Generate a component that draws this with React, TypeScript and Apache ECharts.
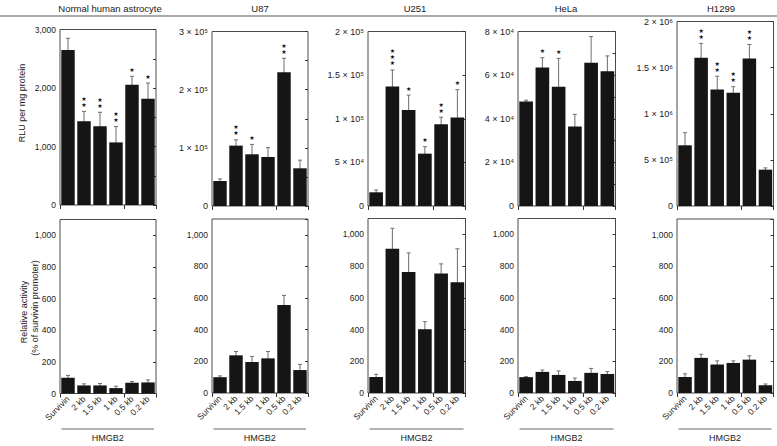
import React, { useEffect, useRef } from "react";
import * as echarts from "echarts";

const categories = ["Survivin", "2 kb", "1.5 kb", "1 kb", "0.5 kb", "0.2 kb"];
const panelTitles = ["Normal human astrocyte", "U87", "U251", "HeLa", "H1299"];

// Top row: RLU per mg protein (mean, error, significance stars)
const astroRLU = [2650, 1430, 1345, 1070, 2055, 1815];
const astroRLUErr = [200, 170, 240, 270, 145, 270];
const astroStars = [0, 2, 2, 2, 1, 1];

const u87RLU = [43000, 103800, 88900, 84300, 230000, 64800];
const u87RLUErr = [3500, 10000, 17000, 16000, 24000, 14000];
const u87Stars = [0, 2, 1, 0, 2, 0];

const u251RLU = [15700, 136900, 110100, 60000, 93700, 101300];
const u251RLUErr = [2700, 19000, 17000, 8000, 8000, 32000];
const u251Stars = [0, 3, 1, 1, 2, 1];

const helaRLU = [47900, 63500, 54700, 36400, 65700, 61800];
const helaRLUErr = [600, 4500, 13000, 5600, 12000, 7000];
const helaStars = [0, 1, 1, 0, 0, 0];

const h1299RLU = [658000, 1606000, 1262000, 1228000, 1598000, 394000];
const h1299RLUErr = [137000, 157000, 145000, 65000, 153000, 19000];
const h1299Stars = [0, 2, 2, 2, 2, 0];

// Bottom row: relative activity (% of survivin promoter)
const astroRel = [100, 51, 51, 34, 68, 70];
const astroRelErr = [14, 10, 12, 12, 8, 16];
const u87Rel = [100, 238, 196, 219, 557, 145];
const u87RelErr = [8, 24, 35, 43, 60, 36];
const u251Rel = [101, 909, 763, 402, 753, 698];
const u251RelErr = [17, 129, 120, 48, 61, 211];
const helaRel = [100, 133, 114, 76, 127, 120];
const helaRelErr = [3, 12, 25, 18, 28, 15];
const h1299Rel = [101, 222, 180, 190, 211, 49];
const h1299RelErr = [20, 23, 23, 13, 24, 8];

// Tick labels
const astroTicks = ["0", "1,000", "2,000", "3,000"];
const u87Ticks = ["0", "1 × 10⁵", "2 × 10⁵", "3 × 10⁵"];
const u251Ticks = ["0", "5 × 10⁴", "1 × 10⁵", "1.5 × 10⁵", "2 × 10⁵"];
const helaTicks = ["0", "2 × 10⁴", "4 × 10⁴", "6 × 10⁴", "8 × 10⁴"];
const h1299Ticks = ["0", "5 × 10⁵", "1 × 10⁶", "1.5 × 10⁶", "2 × 10⁶"];
const relTicks = ["0", "200", "400", "600", "800", "1,000"];

const FONT = "Liberation Sans, Arial, sans-serif";
const TEXT = "#222";
const BAR = "#151515";

type Panel = {
  vals: number[];
  errs: number[];
  stars: number[];
  max: number;
  interval: number;
  minor: number;
  ticks: string[];
  rect: [number, number, number, number]; // left, top, width, height
  bottomRow: boolean;
  tickFont: number;
};

export default function App() {
  const ref = useRef<HTMLDivElement>(null);
  useEffect(() => {
    if (!ref.current) return;
    const chart = echarts.init(ref.current, undefined, { renderer: "svg" });
    const noStars = [0, 0, 0, 0, 0, 0];
    const lefts = [60, 212, 368, 518, 677];
    const widths = [96, 96, 97.5, 97.5, 96.5];
    const panels: Panel[] = [
      { vals: astroRLU, errs: astroRLUErr, stars: astroStars, max: 3000, interval: 1000, minor: 500, ticks: astroTicks, rect: [lefts[0], 29.5, widths[0], 175.5], bottomRow: false, tickFont: 8.5 },
      { vals: u87RLU, errs: u87RLUErr, stars: u87Stars, max: 300000, interval: 100000, minor: 50000, ticks: u87Ticks, rect: [lefts[1], 31.5, widths[1], 174.5], bottomRow: false, tickFont: 9 },
      { vals: u251RLU, errs: u251RLUErr, stars: u251Stars, max: 200000, interval: 50000, minor: 50000, ticks: u251Ticks, rect: [lefts[2], 31.5, widths[2], 174.5], bottomRow: false, tickFont: 9 },
      { vals: helaRLU, errs: helaRLUErr, stars: helaStars, max: 80000, interval: 20000, minor: 10000, ticks: helaTicks, rect: [lefts[3], 31.5, widths[3], 174.5], bottomRow: false, tickFont: 9 },
      { vals: h1299RLU, errs: h1299RLUErr, stars: h1299Stars, max: 2000000, interval: 500000, minor: 500000, ticks: h1299Ticks, rect: [lefts[4], 21.5, widths[4], 184.5], bottomRow: false, tickFont: 9 },
      { vals: astroRel, errs: astroRelErr, stars: noStars, max: 1100, interval: 200, minor: 200, ticks: relTicks, rect: [lefts[0], 219.5, widths[0], 174], bottomRow: true, tickFont: 8.5 },
      { vals: u87Rel, errs: u87RelErr, stars: noStars, max: 1100, interval: 200, minor: 200, ticks: relTicks, rect: [lefts[1], 219, widths[1], 174], bottomRow: true, tickFont: 8.5 },
      { vals: u251Rel, errs: u251RelErr, stars: noStars, max: 1100, interval: 200, minor: 200, ticks: relTicks, rect: [lefts[2], 218.5, widths[2], 174.5], bottomRow: true, tickFont: 8.5 },
      { vals: helaRel, errs: helaRelErr, stars: noStars, max: 1100, interval: 200, minor: 200, ticks: relTicks, rect: [lefts[3], 218.5, widths[3], 174.5], bottomRow: true, tickFont: 8.5 },
      { vals: h1299Rel, errs: h1299RelErr, stars: noStars, max: 1100, interval: 200, minor: 200, ticks: relTicks, rect: [lefts[4], 219, widths[4], 174], bottomRow: true, tickFont: 8.5 },
    ];

    const grid: any[] = [];
    const xAxis: any[] = [];
    const yAxis: any[] = [];
    const series: any[] = [];

    panels.forEach((p, i) => {
      grid.push({
        left: p.rect[0], top: p.rect[1], width: p.rect[2], height: p.rect[3],
        show: true, borderColor: "#4a4a4a", borderWidth: 1, backgroundColor: "transparent",
        containLabel: false,
      });
      xAxis.push({
        type: "category", gridIndex: i, data: categories, position: "bottom",
        axisLine: { show: false }, axisTick: { show: false },
        axisLabel: {
          show: p.bottomRow, rotate: 45, fontSize: 8.5, fontFamily: FONT, color: TEXT, margin: 4,
          interval: 0,
        },
      });
      xAxis.push({
        type: "category", gridIndex: i, data: categories, position: "top",
        axisLine: { show: false },
        axisTick: { show: true, inside: true, length: 4, lineStyle: { color: "#333" } },
        axisLabel: { show: false },
      });
      const fmt = (v: number) => {
        const k = Math.round(v / p.interval);
        if (Math.abs(v - k * p.interval) > 1e-6 || k >= p.ticks.length) return "";
        return p.ticks[k];
      };
      yAxis.push({
        type: "value", gridIndex: i, min: 0, max: p.max, interval: p.interval, position: "left",
        axisLine: { show: false }, axisTick: { show: false }, splitLine: { show: false },
        axisLabel: { formatter: fmt, fontSize: p.tickFont, fontFamily: FONT, color: TEXT, margin: 4 },
      });
      yAxis.push({
        type: "value", gridIndex: i, min: 0, max: p.max, interval: p.minor, position: "right",
        axisLine: { show: false }, splitLine: { show: false },
        axisTick: { show: true, inside: true, length: 3, lineStyle: { color: "#333" } },
        axisLabel: { show: false },
      });
      series.push({
        type: "bar", xAxisIndex: i * 2, yAxisIndex: i * 2, data: p.vals,
        barCategoryGap: "16%", itemStyle: { color: BAR }, silent: true,
      });
      series.push({
        type: "custom", xAxisIndex: i * 2, yAxisIndex: i * 2, clip: false, silent: true,
        data: p.vals.map((v, j) => [j, v, p.errs[j], p.stars[j]]),
        encode: { x: 0, y: 1 },
        renderItem: (_params: any, api: any) => {
          const idx = api.value(0);
          const v = api.value(1);
          const e = api.value(2);
          const s = api.value(3);
          const top = api.coord([idx, v + e]);
          const bot = api.coord([idx, Math.max(0, v - e)]);
          const cap = 2;
          const st = { stroke: "#6e6e6e", lineWidth: 1 };
          const children: any[] = [
            { type: "line", shape: { x1: top[0], y1: top[1], x2: bot[0], y2: bot[1] }, style: st },
            { type: "line", shape: { x1: top[0] - cap, y1: top[1], x2: top[0] + cap, y2: top[1] }, style: st },
            { type: "line", shape: { x1: bot[0] - cap, y1: bot[1], x2: bot[0] + cap, y2: bot[1] }, style: st },
          ];
          for (let k = 0; k < s; k++) {
            children.push({
              type: "text", x: top[0], y: top[1] - 7 - 6 * k,
              style: { text: "★", fontSize: 6, fontFamily: "DejaVu Sans", fill: "#111", align: "center", verticalAlign: "middle" },
            });
          }
          return { type: "group", children };
        },
      });
    });

    const graphic: any[] = [];
    // column titles
    const titleX = [110, 260, 415, 566, 721];
    panelTitles.forEach((t, i) => {
      graphic.push({
        type: "text", x: titleX[i], y: 8.5,
        style: { text: t, fontSize: 9.5, fontFamily: FONT, fill: TEXT, align: "center", verticalAlign: "middle" },
      });
    });
    graphic.push({ type: "line", shape: { x1: 0, y1: 16, x2: 777, y2: 16 }, style: { stroke: "#555", lineWidth: 1 } });
    // y-axis names
    graphic.push({
      type: "text", x: 22, y: 103, rotation: Math.PI / 2,
      style: { text: "RLU per mg protein", fontSize: 9, fontFamily: FONT, fill: TEXT, align: "center", verticalAlign: "middle" },
    });
    graphic.push({
      type: "text", x: 24, y: 312, rotation: Math.PI / 2,
      style: { text: "Relative activity", fontSize: 9, fontFamily: FONT, fill: TEXT, align: "center", verticalAlign: "middle" },
    });
    graphic.push({
      type: "text", x: 35, y: 308, rotation: Math.PI / 2,
      style: { text: "(% of survivin promoter)", fontSize: 9, fontFamily: FONT, fill: TEXT, align: "center", verticalAlign: "middle" },
    });
    // HMGB2 brackets
    lefts.forEach((l, i) => {
      const x1 = l + 1.5;
      const x2 = l + widths[i] - 2;
      graphic.push({ type: "line", shape: { x1, y1: 429, x2, y2: 429 }, style: { stroke: "#666", lineWidth: 1 } });
      graphic.push({
        type: "text", x: (x1 + x2) / 2, y: 438,
        style: { text: "HMGB2", fontSize: 9, fontFamily: FONT, fill: TEXT, align: "center", verticalAlign: "middle" },
      });
    });

    chart.setOption({
      animation: false,
      backgroundColor: "#fff",
      grid, xAxis, yAxis, series, graphic,
    });
    return () => chart.dispose();
  }, []);
  return (
    <div
      ref={ref}
      style={{ position: "fixed", left: 0, top: 0, width: 777, height: 446 }}
    />
  );
}
